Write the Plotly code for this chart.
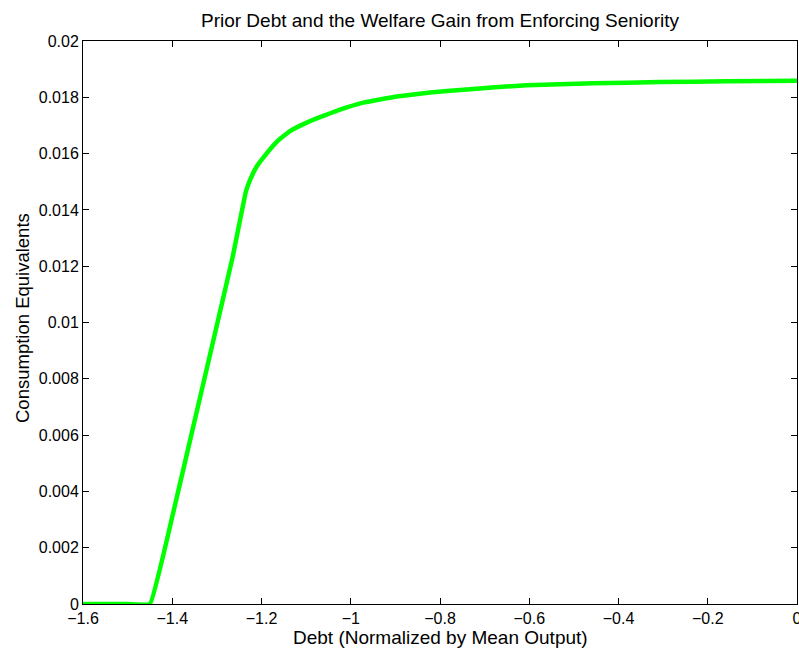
import plotly.graph_objects as go

# Data
debt = [-1.60, -1.50, -1.45, -1.40, -1.35, -1.30, -1.265, -1.235, -1.2258,
        -1.2108, -1.1883, -1.1659, -1.1361, -1.0987, -1.0615, -1.0241, -0.9719,
        -0.8970, -0.8224, -0.7328, -0.6057, -0.4565, -0.3070, -0.1575, 0.0]
gain = [0.0, 0.0, 0.0, 0.0031, 0.0065, 0.0099, 0.0123, 0.01465, 0.01506,
        0.01554, 0.01601, 0.01642, 0.01680, 0.01710, 0.01734, 0.01756, 0.01781,
        0.01803, 0.01817, 0.01829, 0.01843, 0.01850, 0.01854, 0.01857, 0.01859]

x_ticks = [-1.6, -1.4, -1.2, -1.0, -0.8, -0.6, -0.4, -0.2, 0.0]
x_tick_labels = ["\u22121.6", "\u22121.4", "\u22121.2", "\u22121", "\u22120.8",
                 "\u22120.6", "\u22120.4", "\u22120.2", "0"]
y_ticks = [0, 0.002, 0.004, 0.006, 0.008, 0.01, 0.012, 0.014, 0.016, 0.018, 0.02]
y_tick_labels = ["0", "0.002", "0.004", "0.006", "0.008", "0.01", "0.012",
                 "0.014", "0.016", "0.018", "0.02"]

FONT = "Liberation Sans, Arial, Helvetica, sans-serif"
L, R, T, B = 83, 797, 41, 604
PW, PH = R - L, B - T

fig = go.Figure()
fig.add_trace(go.Scatter(x=debt, y=gain, mode="lines",
                         line=dict(color="#00ff00", width=4.5, shape="spline",
                                   smoothing=0.25),
                         showlegend=False, cliponaxis=False))

axis_common = dict(showgrid=False, zeroline=False, showline=True,
                   linecolor="black", linewidth=1, mirror="ticks",
                   ticks="inside", ticklen=6, tickcolor="black", tickwidth=1,
                   automargin=False, ticklabeloverflow="allow",
                   tickfont=dict(family=FONT, size=16, color="black"))

fig.update_layout(
    width=799, height=648,
    margin=dict(l=L, r=799 - R, t=T, b=648 - B),
    paper_bgcolor="white", plot_bgcolor="white",
    title=dict(text="Prior Debt and the Welfare Gain from Enforcing Seniority",
               x=(440) / 799, xanchor="center", y=1 - 20.5 / 648, yanchor="middle",
               font=dict(family=FONT, size=19, color="black")),
    xaxis=dict(range=[-1.6, 0], tickvals=x_ticks, ticktext=x_tick_labels,
               **axis_common),
    yaxis=dict(range=[0, 0.02], tickvals=y_ticks, ticktext=y_tick_labels,
               **axis_common),
    annotations=[
        dict(text="Debt (Normalized by Mean Output)", xref="paper", yref="paper",
             x=0.5, y=-(637 - B) / PH, xanchor="center", yanchor="middle",
             showarrow=False, font=dict(family=FONT, size=19, color="black")),
        dict(text="Consumption Equivalents", xref="paper", yref="paper",
             x=-(L - 22) / PW, y=(B - 318) / PH, xanchor="center", yanchor="middle",
             textangle=-90, showarrow=False,
             font=dict(family=FONT, size=18.5, color="black")),
    ],
)

fig.write_html("out.html",
               config={"displayModeBar": False},
               post_script="document.body.style.margin='0';document.body.style.padding='0';")
